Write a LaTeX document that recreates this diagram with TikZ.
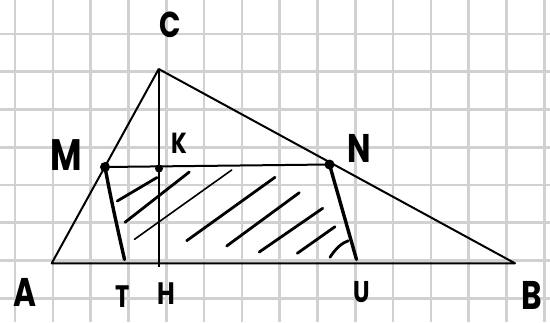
\documentclass[tikz,border=0pt]{standalone}
\usepackage{fontspec}
\setmainfont{Poppins}
\newcommand{\lbl}[2]{\scalebox{0.78}[1]{\fontsize{#1}{#1}\selectfont\bfseries #2}}
\begin{document}
\begin{tikzpicture}[x=1pt,y=-1pt,
  gridline/.style={draw=black!18,line width=2.6pt},
  side/.style={line width=2pt,line join=round},
  thickseg/.style={line width=3.4pt,line cap=round},
  hatch/.style={line width=2.8pt,line cap=round},
  thinhatch/.style={line width=1.6pt,line cap=round},
  dot/.style={circle,fill=black,inner sep=0pt,minimum size=#1},
  lab/.style={inner sep=0pt}]
\useasboundingbox (0,0) rectangle (550,322);
\fill[white] (0,0) rectangle (550,322);
% grid
\foreach \k in {0,...,14} \draw[gridline] ({15+37.8*\k},0) -- ({15+37.8*\k},322);
\foreach \k in {-1,...,7} \draw[gridline] (0,{34+37.75*\k}) -- (550,{34+37.75*\k});
% points
\coordinate (A) at (51.7,263.3);
\coordinate (B) at (515,263.3);
\coordinate (C) at (158.7,69);
\coordinate (H) at (158.7,266.5);
\coordinate (T) at (124.5,259.5);
\coordinate (U) at (356.5,259.5);
\node[dot=10pt] (M) at (105,167) {};
\node[dot=8pt] (K) at (159,168.5) {};
\node[dot=10pt] (N) at (329.5,164.5) {};
% triangle
\draw[side] (A) -- (B) -- (C) -- cycle;
\draw[side] (C) -- (H);
\draw[side] (M.center) -- (N.center);
% legs
\draw[thickseg] (M.center) .. controls (111,200) and (119,235) .. (T);
\draw[thickseg] (N.center) -- (U);
% hatching
\draw[hatch] (117.3,201) -- (157,177.5);
\draw[hatch] (125,222.3) -- (189.3,172);
\draw[thinhatch] (134.5,239.3) -- (231.7,170);
\draw[hatch] (186.7,240.7) -- (275,177.3);
\draw[hatch] (226.7,246) -- (299.3,192.7);
\draw[hatch] (259.3,252) -- (322.7,208.3);
\draw[hatch] (297.3,253.3) -- (335,226.7);
\draw[hatch] (330,257.3) .. controls (336,248) and (342,243) .. (348.3,240.7);
% labels
\node[lab] (lC) at (170,25) {\lbl{36}{C}};
\node[lab] (lM) at (66,155) {\lbl{44}{M}};
\node[lab] (lK) at (179,143) {\lbl{29}{K}};
\node[lab] (lN) at (359,148) {\lbl{40}{N}};
\node[lab] (lA) at (25,292) {\lbl{40}{A}};
\node[lab] (lT) at (123,297) {\lbl{31}{T}};
\node[lab] (lH) at (166,294) {\lbl{31}{H}};
\node[lab] (lU) at (362,292) {\lbl{30}{U}};
\node[lab] (lB) at (532,295) {\lbl{40}{B}};
\end{tikzpicture}
\end{document}
